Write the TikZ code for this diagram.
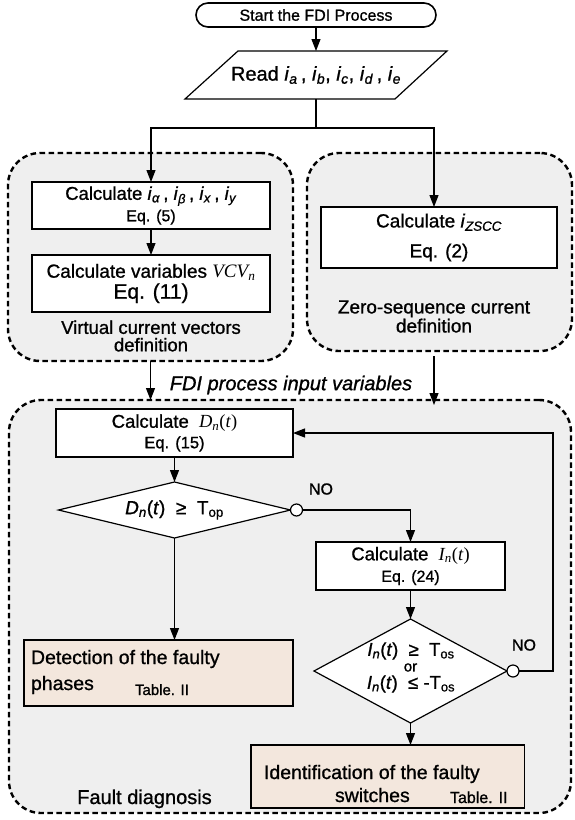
\documentclass[tikz,border=0pt]{standalone}
\usepackage{fontspec}
\setmainfont{Liberation Sans}[FakeBold=1]
\newfontfamily\tnr{Liberation Serif}
\usetikzlibrary{arrows.meta,shapes.geometric,calc}
\definecolor{grpfill}{RGB}{239,239,239}
\definecolor{resfill}{RGB}{243,231,221}
\newcommand{\sbs}[1]{\textsubscript{#1}}
\newcommand{\fs}[1]{\fontsize{#1}{#1}\selectfont}
\begin{document}
\begin{tikzpicture}[x=1pt,y=-1pt,
  every node/.style={inner sep=0pt,outer sep=0pt},
  conn/.style={line width=1.2pt},
  arr/.style={conn,-{Triangle[length=12pt,width=9pt]}},
  box/.style={draw,line width=1.2pt,fill=white,rectangle,align=center},
  resbox/.style={draw,line width=1.2pt,fill=resfill,rectangle},
  grp/.style={draw,line width=2.4pt,dash pattern=on 5.5pt off 3.5pt,fill=grpfill,rounded corners=32pt,rectangle},
  dia/.style={draw,line width=1.2pt,fill=white,diamond},
  nocirc/.style={draw,line width=1.2pt,fill=white,circle,minimum size=12pt},
  txt/.style={align=center}
]
\fill[white] (0,0) rectangle (574,820);
\useasboundingbox (0,0) rectangle (574,820);

% dashed groups
\node[grp,minimum width=285pt,minimum height=208pt] (g1) at (150.5,257) {};
\node[grp,minimum width=265pt,minimum height=198pt] (g2) at (439.5,252) {};
\node[grp,minimum width=562pt,minimum height=413pt] (g3) at (290,606.5) {};

% start and read
\node[box,rounded corners=12pt,line width=1.6pt,minimum width=240pt,minimum height=24pt,font=\fs{16}] (start) at (316,15) {Start the FDI Process};
\draw[line width=1.2pt,fill=white] (185,99) -- (238,51) -- (447,51) -- (395,99) -- cycle;
\node[minimum width=160pt,minimum height=48pt,font=\fs{20}] (read) at (316,75)
  {Read \textit{i}\sbs{\textit{a}}\,, \textit{i}\sbs{\textit{b}}, \textit{i}\sbs{\textit{c}}, \textit{i}\sbs{\textit{d}}\,, \textit{i}\sbs{\textit{e}}};

% upper boxes
\node[box,minimum width=238pt,minimum height=47pt,font=\fs{18.5}] (b1) at (151,205.5)
  {Calculate \textit{i}\sbs{\textit{α}}\,, \textit{i}\sbs{\textit{β}}\,, \textit{i}\sbs{\textit{x}}\,, \textit{i}\sbs{\textit{y}}\\[3pt]{\fs{16}Eq. (5)}};
\node[box,minimum width=238pt,minimum height=57pt,font=\fs{19}] (b2) at (151,283.5)
  {Calculate variables {\tnr\itshape VCV\sbs{n}}\\[2pt]{\fs{21}Eq. (11)}};
\node[box,minimum width=236pt,minimum height=61pt,font=\fs{19}] (bz) at (439,237.5)
  {Calculate \textit{i}\sbs{\textit{ZSCC}}\\[11pt]Eq. (2)};

\node[txt,font=\fontsize{18.5}{17.5}\selectfont] (vlab) at (151,336) {Virtual current vectors\\definition};
\node[txt,font=\fontsize{19}{19}\selectfont] (zlab) at (434,316.5) {Zero-sequence current\\definition};
\node[font=\fs{20}\itshape] (fdi) at (291,385) {FDI process input variables};

% lower boxes
\node[box,minimum width=237pt,minimum height=48pt,font=\fs{18.5}] (bD) at (174.5,433)
  {Calculate\ \ {\tnr\itshape D\sbs{n}}{\tnr(\textit{t})}\\[2pt]{\fs{16.5}Eq. (15)}};
\node[dia,minimum width=232pt,minimum height=56pt] (d1) at (174.5,510) {};
\node[font=\fs{19}] (d1t) at (d1.center) {\textit{D}\sbs{\textit{n}}(\textit{t})\ \ ≥\ \ T\sbs{op}};
\node[nocirc] (c1) at ($(d1.east)+(6,0)$) {};
\node[font=\fs{16}] (no1) at (321,489) {NO};

\node[box,minimum width=189pt,minimum height=48pt,font=\fs{18.5}] (bI) at (410.5,566)
  {Calculate\ \ {\tnr\itshape I\sbs{n}}{\tnr(\textit{t})}\\[3pt]{\fs{16}Eq. (24)}};
\node[dia,minimum width=193pt,minimum height=104pt] (d2) at (410.5,671) {};
\node[font=\fs{18.5}] (d2a) at (411,651) {\textit{I}\sbs{\textit{n}}(\textit{t})\ \ ≥\ \ T\sbs{os}};
\node[font=\fs{15}] (d2b) at (410.5,667.5) {or};
\node[font=\fs{18.5}] (d2c) at (411,684) {\textit{I}\sbs{\textit{n}}(\textit{t})\ \ ≤\ -T\sbs{os}};
\node[nocirc] (c2) at ($(d2.east)+(6,0)$) {};
\node[font=\fs{16}] (no2) at (524,645) {NO};

\node[resbox,minimum width=269pt,minimum height=66pt] (bDet) at (158.5,673) {};
\node[anchor=base west,font=\fs{19.5}] (dt1) at (31,664) {Detection of the faulty};
\node[anchor=base west,font=\fs{19.5}] (dt2) at (31,690) {phases};
\node[anchor=base west,font=\fs{15}] (dt3) at (135,695) {Table. II};

\node[resbox,minimum width=273.5pt,minimum height=63pt] (bId) at (387.75,776.5) {};
\node[anchor=base west,font=\fs{19.5}] (it1) at (264,779) {Identification of the faulty};
\node[anchor=base west,font=\fs{19.5}] (it2) at (335,802) {switches};
\node[anchor=base west,font=\fs{16}] (it3) at (450,803) {Table. II};

\node[anchor=base,font=\fs{20}] (fd) at (144.5,804) {Fault diagnosis};

% connectors
\coordinate (split) at (316,128);
\coordinate (lp) at (553,0);
\draw[arr] (start) -- (read);
\draw[conn] (read.south) -- (split);
\draw[arr] (split) -| (b1.north);
\draw[arr] (split) -| ([xshift=-5pt]bz.north);
\draw[arr] (b1) -- (b2);
\draw[arr] (g1.south) -- (g1.south |- g3.north);
\draw[arr] ([xshift=-5.5pt,yshift=-5pt]g2.south) -- ([xshift=-5.5pt,yshift=-5pt]g2.south |- g3.north);
\draw[arr] (bD) -- (d1);
\draw[arr] (c1.east) -| (bI.north);
\draw[arr] (d1.south) -- (d1.south |- bDet.north);
\draw[arr] (bI) -- (d2);
\draw[arr] (d2.south) -- (d2.south |- bId.north);
\draw[arr] (c2.east) -- (c2.east -| lp) |- (bD.east);
\end{tikzpicture}
\end{document}
